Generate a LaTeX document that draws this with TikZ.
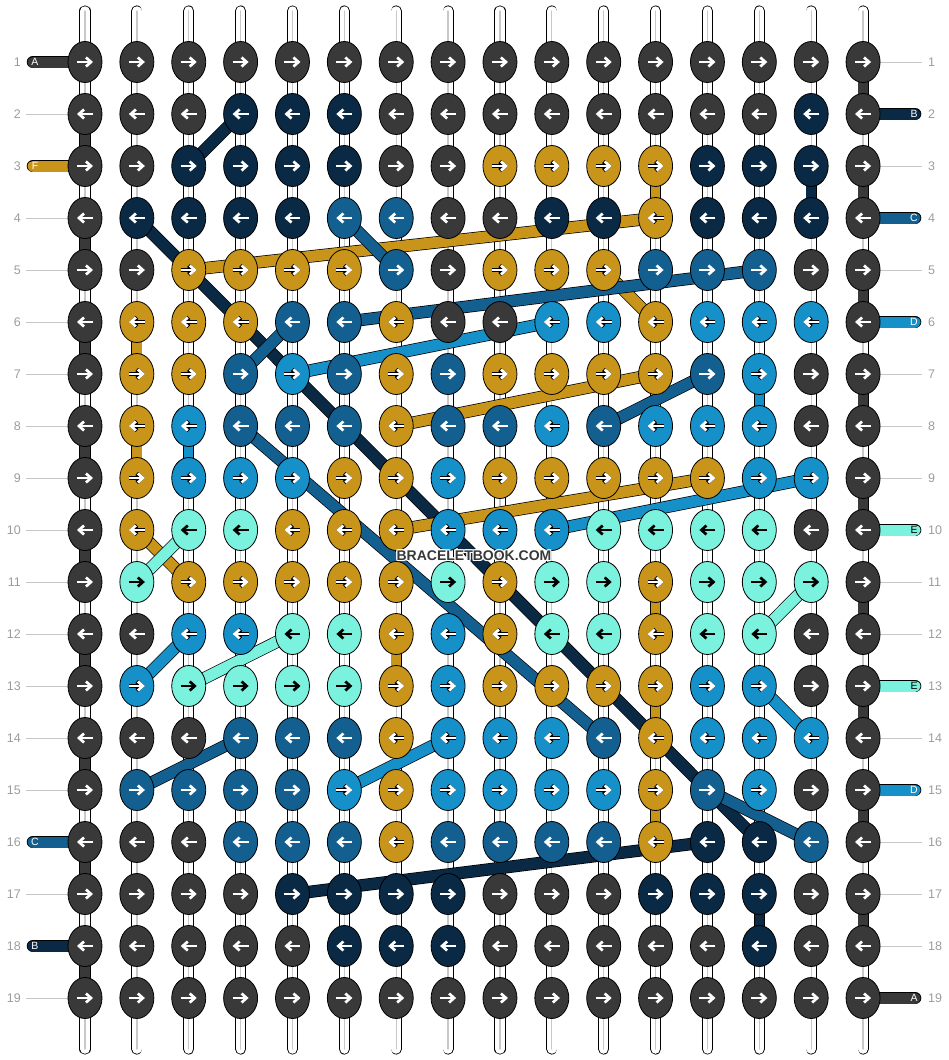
\documentclass[tikz,border=0pt]{standalone}
\usepackage{fontspec}
\setmainfont{Liberation Sans}
\usetikzlibrary{shapes.geometric, arrows.meta}
\definecolor{cK}{HTML}{393939}
\definecolor{cN}{HTML}{0A2944}
\definecolor{cG}{HTML}{C8951A}
\definecolor{cM}{HTML}{135F8F}
\definecolor{cL}{HTML}{1590C8}
\definecolor{cE}{HTML}{7AF2DE}
% arrow colour and arrow outline for each knot colour
\colorlet{aK}{white}\colorlet{oK}{cK}
\colorlet{aN}{white}\colorlet{oN}{cN}
\colorlet{aG}{white}\colorlet{oG}{black}
\colorlet{aM}{white}\colorlet{oM}{cM}
\colorlet{aL}{white}\colorlet{oL}{black}
\colorlet{aE}{black}\colorlet{oE}{cE}
\colorlet{tK}{white}\colorlet{tN}{white}\colorlet{tG}{white}
\colorlet{tM}{white}\colorlet{tL}{white}\colorlet{tE}{black}
\definecolor{RowGray}{HTML}{9C9C9C}
\definecolor{TickGray}{HTML}{C6C6C6}
\definecolor{StrGray}{HTML}{C8C8C8}
\pgfdeclarelayer{strings}
\pgfdeclarelayer{threads}
\pgfsetlayers{strings,threads,main}
\tikzset{
  knot/.style={ellipse, draw=black, line width=0.8pt, fill=#1,
               minimum width=34pt, minimum height=41pt, inner sep=0pt},
  hband/.style={draw=black, line width=0.8pt, double=#1, double distance=11pt},
  vband/.style={draw=black, line width=0.8pt, double=#1, double distance=9.5pt},
  thread/.style={draw=black, line width=0.7pt, double=#1, double distance=11pt},
  midline/.style={draw=StrGray, line width=1.3pt},
  arrout/.style={draw=#1, line width=4.2pt, -{Straight Barb[length=5pt, width=9pt]}},
  arrin/.style={draw=#1, line width=2.7pt, -{Straight Barb[length=5pt, width=9pt]}},
  rownum/.style={text=RowGray, font=\fontsize{12.5}{13}\selectfont, inner sep=0pt},
  tick/.style={draw=TickGray, line width=1pt},
  tabtxt/.style={font=\fontsize{10.5}{11}\selectfont, inner sep=0pt},
  wmark/.style={font=\fontsize{14}{15}\selectfont\bfseries, inner sep=0pt}
}
\begin{document}
\begin{tikzpicture}[x=1pt, y=-1pt]
\useasboundingbox (0,0) rectangle (948,1060);

% knots, row by row
\foreach \cols [count=\r] in {
  {K,K,K,K,K,K,K,K,K,K,K,K,K,K,K,K},
  {K,K,K,N,N,N,K,K,K,K,K,K,K,K,N,K},
  {K,K,N,N,N,N,K,K,G,G,G,G,N,N,N,K},
  {K,N,N,N,N,M,M,K,K,N,N,G,N,N,N,K},
  {K,K,G,G,G,G,M,K,G,G,G,M,M,M,K,K},
  {K,G,G,G,M,M,G,K,K,L,L,G,L,L,L,K},
  {K,G,G,M,L,M,G,M,G,G,G,G,M,L,K,K},
  {K,G,L,M,M,M,G,M,M,L,M,L,L,L,K,K},
  {K,G,L,L,L,G,G,L,G,G,G,G,G,L,L,K},
  {K,G,E,E,G,G,G,L,L,L,E,E,E,E,K,K},
  {K,E,G,G,G,G,G,E,G,E,E,G,E,E,E,K},
  {K,K,L,L,E,E,G,L,G,E,E,G,E,E,K,K},
  {K,L,E,E,E,E,G,L,G,G,G,G,L,L,K,K},
  {K,K,K,M,M,M,G,L,L,L,M,G,L,L,L,K},
  {K,M,M,M,M,L,G,L,L,L,L,G,M,L,K,K},
  {K,K,K,M,M,M,G,M,M,M,M,G,N,N,M,K},
  {K,K,K,K,N,N,N,N,K,K,K,N,N,N,K,K},
  {K,K,K,K,K,N,N,N,K,K,K,K,K,N,K,K},
  {K,K,K,K,K,K,K,K,K,K,K,K,K,K,K,K}} {
  \foreach \k [count=\c] in \cols {
    \node[knot=c\k] (n\r-\c) at ({85+(\c-1)*51.87},{62+(\r-1)*52}) {};
    \pgfmathsetmacro\axa{-8*(2*mod(\r,2)-1)}
    \pgfmathsetmacro\axb{8*(2*mod(\r,2)-1)}
    \draw[arrout=o\k] ([xshift=\axa]n\r-\c.center) -- ([xshift=\axb]n\r-\c.center);
    \draw[arrin=a\k] ([xshift=\axa]n\r-\c.center) -- ([xshift=\axb]n\r-\c.center);
  }
}

\begin{pgfonlayer}{strings}
  % base strings
  \foreach \c in {1,...,16} {
    \coordinate (t\c) at ({85+(\c-1)*51.87},11);
    \coordinate (b\c) at ({85+(\c-1)*51.87},1049);
    \draw[vband=white, line cap=round] (t\c) -- (n1-\c.center);
    \draw[midline, line cap=round] (t\c) -- (n1-\c.center);
    \draw[vband=white, line cap=round] (n19-\c.center) -- (b\c);
    \draw[midline, line cap=round] (n19-\c.center) -- (b\c);
    \foreach \r [evaluate=\r as \s using int(\r+1)] in {1,...,18} {
      \draw[vband=white] (n\r-\c.center) -- (n\s-\c.center);
      \draw[midline] (n\r-\c.center) -- (n\s-\c.center);
    }
  }
  % coloured vertical links
  \foreach \r [evaluate=\r as \s using int(\r+1)] in {2,4,...,18}
    \draw[vband=cK] (n\r-1.center) -- (n\s-1.center);
  \foreach \r [evaluate=\r as \s using int(\r+1)] in {1,3,...,17}
    \draw[vband=cK] (n\r-16.center) -- (n\s-16.center);
  \foreach \c/\r/\k [evaluate=\r as \s using int(\r+1)] in
      {15/3/N, 12/3/G, 2/6/G, 2/8/G, 3/8/L, 14/7/L, 7/12/G,
       12/11/G, 12/13/G, 12/15/G, 14/17/N}
    \draw[vband=c\k] (n\r-\c.center) -- (n\s-\c.center);
  % working rows
  \foreach \r in {1,...,19}
    \foreach \c [evaluate=\c as \d using int(\c+1)] in {1,...,15}
      \draw[hband=cK] (n\r-\c.center) -- (n\r-\d.center);
  % side threads
  \foreach \r/\k/\lab in {1/K/A, 3/G/F, 16/M/C, 18/N/B} {
    \coordinate (lt\r) at (33,{62+(\r-1)*52});
    \draw[hband=c\k, line cap=round] (lt\r) -- (n\r-1.center);
    \node[tabtxt, text=t\k] (lab-l\r) at (35,{62+(\r-1)*52}) {\lab};
  }
  \foreach \r/\k/\lab in {2/N/B, 4/M/C, 6/L/D, 10/E/E, 13/E/E, 15/L/D, 19/K/A} {
    \coordinate (rt\r) at (915,{62+(\r-1)*52});
    \draw[hband=c\k, line cap=round] (n\r-16.center) -- (rt\r);
    \node[tabtxt, text=t\k] (lab-r\r) at (914,{62+(\r-1)*52}) {\lab};
  }
  % row ticks
  \foreach \r in {2,4,5,6,7,8,9,10,11,12,13,14,15,17,19} {
    \coordinate (lk\r) at (26,{62+(\r-1)*52});
    \draw[tick] (lk\r) -- (n\r-1.center);
  }
  \foreach \r in {1,3,5,7,8,9,11,12,14,16,17,18} {
    \coordinate (rk\r) at (922,{62+(\r-1)*52});
    \draw[tick] (n\r-16.center) -- (rk\r);
  }
\end{pgfonlayer}

% carried threads
\begin{pgfonlayer}{threads}
  \foreach \a/\b/\k in {n4-2/n16-14/N, n3-3/n2-4/N, n17-5/n16-13/N,
      n5-3/n4-12/G, n5-11/n6-12/G, n8-7/n7-12/G, n10-7/n9-13/G, n10-2/n11-3/G,
      n4-6/n5-7/M, n6-6/n5-14/M, n7-4/n6-5/M, n8-4/n14-11/M, n8-11/n7-13/M,
      n15-2/n14-4/M, n15-13/n16-15/M,
      n7-5/n6-10/L, n10-10/n9-15/L, n13-2/n12-3/L, n15-6/n14-8/L, n13-14/n14-15/L,
      n11-2/n10-3/E, n13-3/n12-5/E, n12-14/n11-15/E}
    \draw[thread=c\k] (\a.center) -- (\b.center);
\end{pgfonlayer}

% row numbers
\foreach \r in {1,...,19} {
  \node[rownum, anchor=east] (ln\r) at (21,{62+(\r-1)*52}) {\r};
  \node[rownum, anchor=west] (rn\r) at (928,{62+(\r-1)*52}) {\r};
}

% watermark
\foreach \dx/\dy [count=\h] in {1/0,-1/0,0/1,0/-1,1/1,1/-1,-1/1,-1/-1}
  \node[wmark, text=white] (halo\h) at ({474+\dx},{556+\dy}) {BRACELETBOOK.COM};
\node[wmark, text=cK] (wm) at (474,556) {BRACELETBOOK.COM};
\end{tikzpicture}
\end{document}
